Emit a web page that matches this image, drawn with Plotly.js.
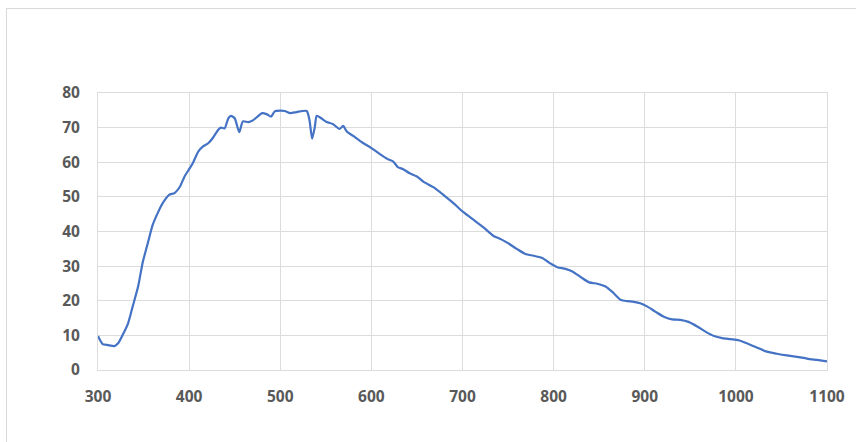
<!DOCTYPE html>
<html>
<head>
<meta charset="utf-8">
<script src="https://cdn.plot.ly/plotly-3.0.1.min.js"></script>
<style>
  html, body { margin: 0; padding: 0; background: #ffffff; }
  #wrap { position: relative; width: 856px; height: 442px; overflow: hidden; }
  #frame { position: absolute; left: 6px; top: 8px; width: 880px; height: 480px; border: 1.5px solid #d9d9d9; box-sizing: border-box; pointer-events: none; }
  #chart { position: absolute; left: 0; top: 0; width: 856px; height: 442px; }
</style>
</head>
<body>
<div id="wrap">
  <div id="chart"></div>
  <div id="frame"></div>
</div>
<script>
const wavelength = [300,305,311,318,322,327,333,338,344,349,355,360,366,371,378,384,390,395,400,404,410,415,421,426,432,435,439,443,446,450,455,459,465,470,476,480,485,490,494,500,505,511,518,529,532,535,538,540,545,551,558,565,569,573,580,590,600,609,618,624,629,635,642,650,657,668,679,690,701,712,723,734,742,749,760,769,778,788,795,804,813,821,830,839,848,857,865,874,881,888,895,903,912,921,930,939,948,958,967,976,985,994,1003,1012,1023,1034,1045,1056,1067,1078,1089,1100];
const response = [9.8,7.5,7.2,6.9,7.7,10.1,13.5,18.3,24.1,31.0,37.0,41.9,45.6,48.2,50.6,51.1,53.0,55.9,58.0,59.7,63.1,64.5,65.5,67.0,69.4,70.0,69.8,72.7,73.4,72.7,68.7,71.8,71.6,72.1,73.4,74.2,73.9,73.2,74.7,74.9,74.8,74.2,74.5,74.8,72.3,66.8,70.3,73.4,72.7,71.6,71.0,69.6,70.5,68.9,67.6,65.7,64.1,62.4,60.9,60.2,58.6,58.0,56.8,55.9,54.4,52.8,50.6,48.2,45.6,43.4,41.2,38.7,37.8,36.8,34.9,33.5,33.0,32.3,31.0,29.7,29.2,28.4,26.8,25.3,24.9,24.1,22.4,20.2,19.9,19.7,19.3,18.3,16.8,15.4,14.6,14.5,13.9,12.5,11.0,9.8,9.2,8.9,8.6,7.7,6.5,5.3,4.7,4.2,3.8,3.3,2.9,2.5];
const xTicks = [300,400,500,600,700,800,900,1000,1100];
const yTicks = [0,10,20,30,40,50,60,70,80];

const tickFont = { family: 'Open Sans, Roboto, sans-serif', size: 15.5, color: '#595959', weight: 'bold' };

Plotly.newPlot('chart', [{
  x: wavelength,
  y: response,
  type: 'scatter',
  mode: 'lines',
  line: { color: '#4472c4', width: 2.2, shape: 'spline', smoothing: 0.6 },
  hoverinfo: 'x+y'
}], {
  width: 856,
  height: 442,
  margin: { l: 98, r: 29, t: 93, b: 71.5 },
  paper_bgcolor: '#ffffff',
  plot_bgcolor: '#ffffff',
  showlegend: false,
  xaxis: {
    range: [300, 1100],
    tickvals: xTicks,
    ticktext: xTicks.map(String),
    showgrid: true,
    gridcolor: '#dcdcdc',
    gridwidth: 1,
    zeroline: false,
    showline: true,
    mirror: true,
    linecolor: '#dcdcdc',
    linewidth: 1,
    ticks: '',
    ticklabelstandoff: 12,
    tickfont: tickFont
  },
  yaxis: {
    range: [0, 80],
    tickvals: yTicks,
    ticktext: yTicks.map(String),
    showgrid: true,
    gridcolor: '#dcdcdc',
    gridwidth: 1,
    zeroline: false,
    showline: true,
    mirror: true,
    linecolor: '#dcdcdc',
    linewidth: 1,
    ticks: '',
    ticklabelstandoff: 14,
    tickfont: tickFont
  }
}, { staticPlot: true });
</script>
</body>
</html>
